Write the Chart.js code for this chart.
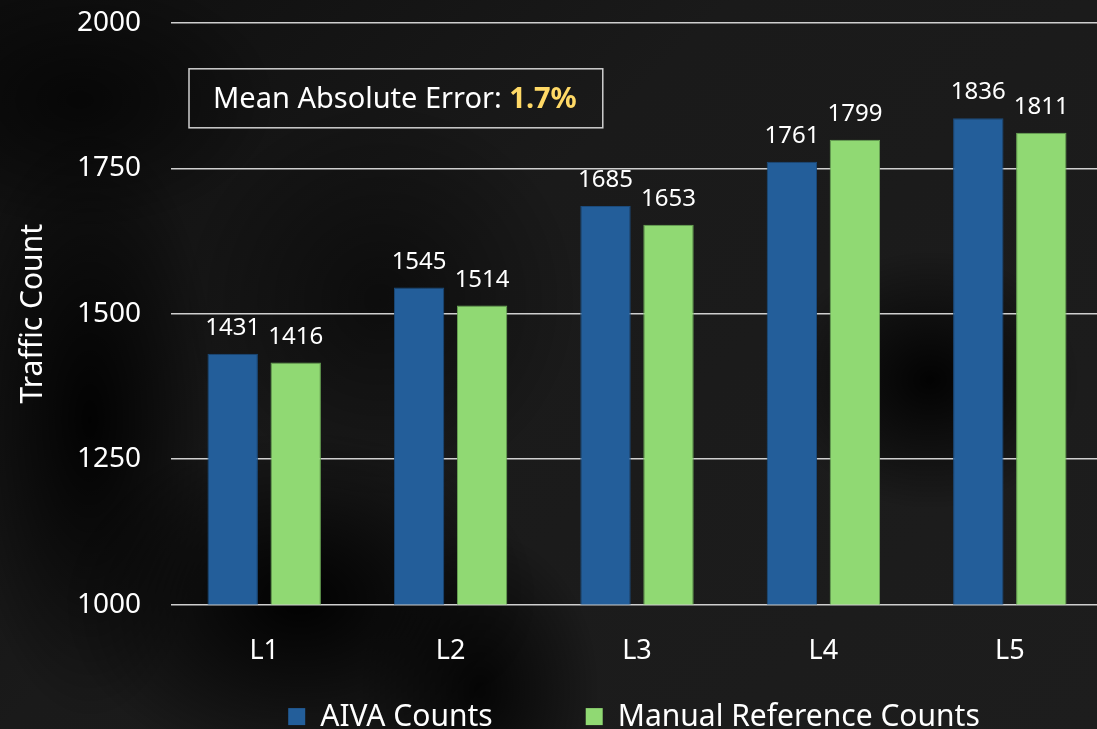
<!DOCTYPE html>
<html>
<head>
<meta charset="utf-8">
<script src="https://cdn.jsdelivr.net/npm/chart.js@4"></script>
<style>
  html, body {
    margin: 0;
    padding: 0;
    width: 1097px;
    height: 729px;
    overflow: hidden;
  }
  body {
    background:
      radial-gradient(ellipse 150px 130px at 930px 380px, rgba(0,0,0,0.9), rgba(0,0,0,0) 100%),
      radial-gradient(ellipse 240px 170px at 300px 600px, rgba(0,0,0,0.95), rgba(0,0,0,0) 100%),
      radial-gradient(ellipse 130px 300px at 90px 420px, rgba(0,0,0,0.9), rgba(0,0,0,0) 100%),
      radial-gradient(ellipse 120px 160px at 480px 690px, rgba(0,0,0,0.8), rgba(0,0,0,0) 100%),
      radial-gradient(ellipse 200px 130px at 80px 100px, rgba(0,0,0,0.6), rgba(0,0,0,0) 100%),
      radial-gradient(ellipse 200px 200px at 380px 300px, rgba(0,0,0,0.5), rgba(0,0,0,0) 100%),
      linear-gradient(135deg, #0e0e0e 0%, #1a1a1a 40%, #1d1d1d 100%);
  }
  #wrap {
    position: absolute;
    left: 0;
    top: -24px;
    width: 1103px;
    height: 753px;
  }
</style>
</head>
<body>
<div id="wrap"><canvas id="chart"></canvas></div>
<script>
// Chart data
const categories = ["L1", "L2", "L3", "L4", "L5"];
const aivaCounts = [1431, 1545, 1685, 1761, 1836];
const manualCounts = [1416, 1514, 1653, 1799, 1811];
const yTicks = [1000, 1250, 1500, 1750, 2000];
const seriesNames = ["AIVA Counts", "Manual Reference Counts"];
const seriesColors = ["#235e9a", "#90d973"];
const maeLabel = "Mean Absolute Error: ";
const maeValue = "1.7%";

const fontFamily = "'Noto Sans', 'Open Sans', sans-serif";

// Draw value labels above each bar
const barLabels = {
  id: "barLabels",
  afterDatasetsDraw(chart) {
    const ctx = chart.ctx;
    ctx.save();
    ctx.fillStyle = "#ffffff";
    ctx.font = "24px " + fontFamily;
    ctx.textAlign = "center";
    ctx.textBaseline = "alphabetic";
    chart.data.datasets.forEach((ds, i) => {
      const meta = chart.getDatasetMeta(i);
      meta.data.forEach((bar, j) => {
        ctx.fillText(ds.data[j], bar.x, bar.y - 19);
      });
    });
    ctx.restore();
  }
};

// Mean absolute error box in the upper left of the plot
const maeBox = {
  id: "maeBox",
  afterDraw(chart) {
    const ctx = chart.ctx;
    const area = chart.chartArea;
    const x = area.left + 18;
    const y = area.top + 46;
    ctx.save();
    ctx.font = "29px " + fontFamily;
    const w1 = ctx.measureText(maeLabel).width;
    ctx.font = "bold 29px " + fontFamily;
    const w2 = ctx.measureText(maeValue).width;
    const boxW = w1 + w2 + 50;
    ctx.strokeStyle = "#cfcfcf";
    ctx.lineWidth = 1.5;
    ctx.strokeRect(x, y, boxW, 59);
    ctx.textBaseline = "middle";
    ctx.textAlign = "left";
    ctx.fillStyle = "#ffffff";
    ctx.font = "29px " + fontFamily;
    ctx.fillText(maeLabel, x + 24, y + 31);
    ctx.fillStyle = "#ffd966";
    ctx.font = "bold 29px " + fontFamily;
    ctx.fillText(maeValue, x + 24 + w1, y + 31);
    ctx.restore();
  }
};

// Legend below the axis, centred on the plot area
const bottomLegend = {
  id: "bottomLegend",
  afterDraw(chart) {
    const ctx = chart.ctx;
    const area = chart.chartArea;
    const box = 17;
    const gapText = 15;
    const gapItem = 93;
    ctx.save();
    ctx.font = "30px " + fontFamily;
    const items = chart.data.datasets.map(ds => ({
      text: ds.label,
      color: ds.backgroundColor,
      w: ctx.measureText(ds.label).width
    }));
    let total = 0;
    items.forEach((it, i) => {
      total += box + gapText + it.w + (i < items.length - 1 ? gapItem : 0);
    });
    let x = (area.left + area.right) / 2 - 3 - total / 2;
    const cy = area.bottom + 112;
    ctx.textBaseline = "middle";
    ctx.textAlign = "left";
    items.forEach(it => {
      ctx.fillStyle = it.color;
      ctx.fillRect(x, cy - box / 2, box, box);
      x += box + gapText;
      ctx.fillStyle = "#ffffff";
      ctx.fillText(it.text, x, cy + 1);
      x += it.w + gapItem;
    });
    ctx.restore();
  }
};

new Chart(document.getElementById("chart"), {
  type: "bar",
  data: {
    labels: categories,
    datasets: [
      {
        label: seriesNames[0],
        data: aivaCounts,
        backgroundColor: seriesColors[0],
        borderColor: "#1b4b7c",
        borderWidth: 1
      },
      {
        label: seriesNames[1],
        data: manualCounts,
        backgroundColor: seriesColors[1],
        borderColor: "#6aa855",
        borderWidth: 1
      }
    ]
  },
  options: {
    responsive: true,
    maintainAspectRatio: false,
    animation: false,
    categoryPercentage: 0.676,
    barPercentage: 0.8,
    layout: {
      padding: { top: 7, left: 0, right: 0, bottom: 38 }
    },
    plugins: {
      legend: { display: false },
      tooltip: { enabled: false }
    },
    scales: {
      x: {
        grid: { display: false },
        border: { display: false },
        ticks: {
          color: "#ffffff",
          font: { family: fontFamily, size: 27 },
          padding: 23
        }
      },
      y: {
        min: 1000,
        max: 2000,
        afterBuildTicks(axis) {
          axis.ticks = yTicks.map(v => ({ value: v }));
        },
        afterFit(axis) {
          axis.width = 171;
        },
        grid: {
          color: "#cfcfcf",
          lineWidth: 1.5,
          drawTicks: false
        },
        border: { display: false },
        ticks: {
          color: "#ffffff",
          font: { family: fontFamily, size: 28 },
          padding: 30,
          callback: v => String(v)
        },
        title: {
          display: true,
          text: "Traffic Count",
          color: "#ffffff",
          font: { family: fontFamily, size: 30 },
          padding: { top: 15, bottom: 0 }
        }
      }
    }
  },
  plugins: [barLabels, maeBox, bottomLegend]
});
</script>
</body>
</html>
